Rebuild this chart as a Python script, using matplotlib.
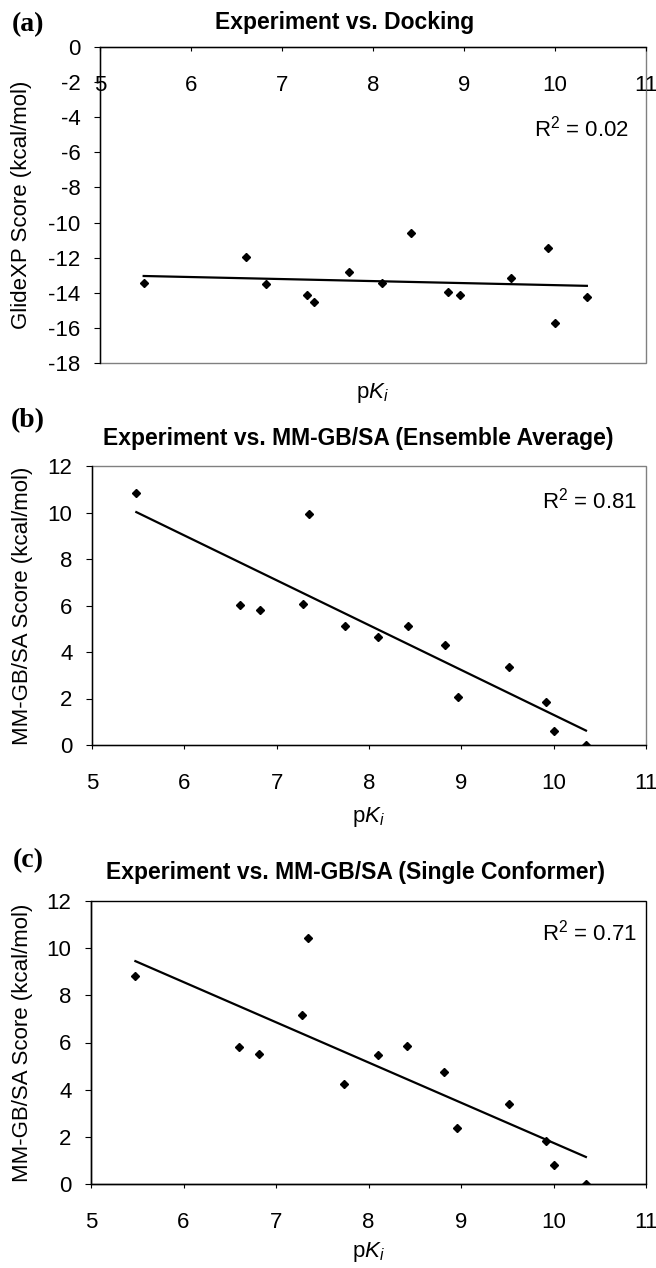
import numpy as np
import matplotlib
matplotlib.use('Agg')
import matplotlib.pyplot as plt
from matplotlib.patches import Rectangle

plt.rcParams['font.family'] = ['Liberation Sans', 'DejaVu Sans']
plt.rcParams['mathtext.fontset'] = 'custom'
plt.rcParams['mathtext.rm'] = 'Liberation Sans'
plt.rcParams['mathtext.it'] = 'Liberation Sans:italic'
plt.rcParams['axes.unicode_minus'] = False

# same 14 compounds in every panel
pki = [5.48, 6.60, 6.82, 7.28, 7.35, 7.74, 8.10, 8.42, 8.82, 8.96, 9.52, 9.92, 10.00, 10.35]

glide = [-13.46, -11.98, -13.52, -14.13, -14.52, -12.82, -13.42, -10.61,
         -13.95, -14.13, -13.14, -11.43, -15.72, -14.24]
mm_ensemble = [10.84, 6.02, 5.79, 6.06, 9.93, 5.11, 4.66, 5.11, 4.28, 2.05, 3.35, 1.86, 0.62, 0.00]
mm_single = [8.82, 5.80, 5.51, 7.18, 10.42, 4.24, 5.47, 5.85, 4.73, 2.37, 3.38, 1.84, 0.81, 0.00]

titles = ['Experiment vs. Docking',
          'Experiment vs. MM-GB/SA (Ensemble Average)',
          'Experiment vs. MM-GB/SA (Single Conformer)']
panel_tags = ['(a)', '(b)', '(c)']
ylabels = ['GlideXP Score (kcal/mol)', 'MM-GB/SA Score (kcal/mol)', 'MM-GB/SA Score (kcal/mol)']
r2_text = ['R$^2$ = 0.02', 'R$^2$ = 0.81', 'R$^2$ = 0.71']
xticks = [5, 6, 7, 8, 9, 10, 11]
yticks_a = [0, -2, -4, -6, -8, -10, -12, -14, -16, -18]
yticks_bc = [0, 2, 4, 6, 8, 10, 12]

W, H = 656, 1268
fig = plt.figure(figsize=(W / 100, H / 100), dpi=100)

def fx(px):
    return px / W

def fy(py):
    return 1 - py / H

# axes boxes in pixels: left, top, right, bottom
boxes = [(100, 47, 646, 363), (92, 466, 646, 745), (91, 901, 646, 1184)]
title_pos = [(345, 23), (358, 438), (355, 872)]
tag_pos = [(28, 25), (28, 421), (28, 861)]
ylab_x = [22, 23, 23]
xlab_y = [393, 817, 1252]
r2_pos = [(534, 129), (542, 501), (542, 933)]
border_col = ['#808080', '#808080', 'black']

series = [glide, mm_ensemble, mm_single]

for i in range(3):
    l, t, r, b = boxes[i]
    ax = fig.add_axes([fx(l), fy(b), fx(r - l), (b - t) / H])
    y = series[i]
    ax.plot(pki, y, 'kD', markersize=4.3, zorder=3)
    coef = np.polyfit(pki, y, 1)
    xs = np.array([min(pki), max(pki)])
    ax.plot(xs, np.polyval(coef, xs), 'k-', lw=1.6, zorder=2)

    ax.set_xlim(5, 11)
    ax.set_xticks(xticks)
    if i == 0:
        ax.set_ylim(-18, 0)
        ax.set_yticks(yticks_a)
        ax.spines['bottom'].set_position(('data', 0))
    else:
        ax.set_ylim(0, 12)
        ax.set_yticks(yticks_bc)
    ax.spines['top'].set_visible(False)
    ax.spines['right'].set_visible(False)
    ax.add_patch(Rectangle((0, 0), 1, 1, transform=ax.transAxes, fill=False,
                           ec=border_col[i], lw=1.0, zorder=0, clip_on=False))
    for s in ['left', 'bottom']:
        ax.spines[s].set_linewidth(1.0)
        ax.spines[s].set_color('black')
    ax.tick_params(axis='x', direction='out', length=3, width=0.8, pad=17, labelsize=16)
    ax.tick_params(axis='y', direction='out', length=4, width=0.8, pad=10, labelsize=16)

    fig.text(fx(title_pos[i][0]), fy(title_pos[i][1]), titles[i], ha='center', va='center',
             fontsize=16.5, fontweight='bold')
    fig.text(fx(tag_pos[i][0]), fy(tag_pos[i][1]), panel_tags[i], ha='center', va='center',
             fontsize=20, fontweight='bold', family='Liberation Serif')
    fig.text(fx(ylab_x[i]), fy((t + b) / 2), ylabels[i], rotation=90, ha='center', va='center',
             fontsize=16)
    fig.text(fx((l + r) / 2), fy(xlab_y[i]), 'p$K_i$', ha='center', va='center', fontsize=16)
    fig.text(fx(r2_pos[i][0]), fy(r2_pos[i][1]), r2_text[i], ha='left', va='center', fontsize=16)

fig.savefig('out.png', dpi=100)
